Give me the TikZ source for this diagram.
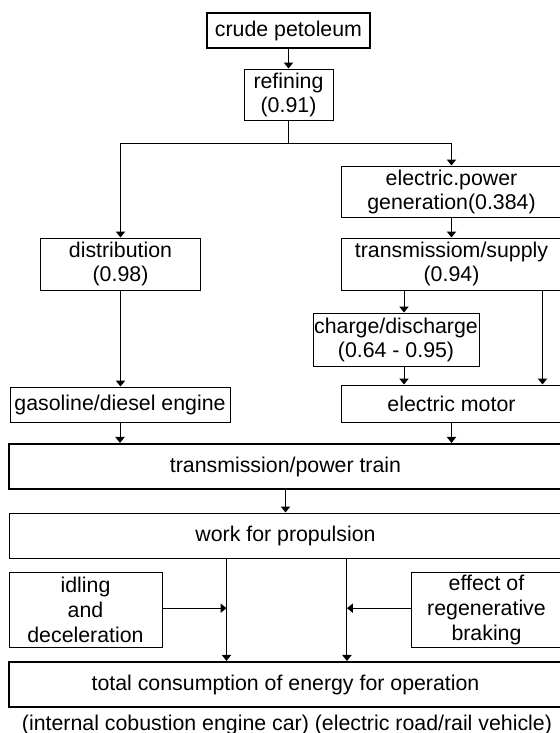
\documentclass[tikz,border=0pt]{standalone}
\usepackage{fontspec}
\setmainfont{Liberation Sans}
\usetikzlibrary{arrows.meta}
\tikzset{
  blk/.style={draw, line width=0.75pt, inner sep=0pt, align=center, font=\fontsize{16}{18}\selectfont},
  thk/.style={blk, line width=1.6pt},
  arr/.style={-{Triangle[width=7pt,length=4.5pt]}, line width=0.75pt},
}
\begin{document}
\begin{tikzpicture}[x=0.75pt, y=-0.75pt]
  \useasboundingbox (0,0) rectangle (560,733);
  % fuel chain
  \node[thk, minimum width=122.25pt, minimum height=26.25pt] (crude) at (288.5,30.5) {crude petoleum};
  \node[blk, minimum width=66.75pt, minimum height=38.25pt] (refining) at (288.5,94.5) {refining\\(0.91)};
  \node[blk, minimum width=120pt, minimum height=39pt] (distribution) at (120.5,264) {distribution\\(0.98)};
  \node[blk, minimum width=165pt, minimum height=26.25pt] (gasoline) at (120,404.5) {gasoline/diesel engine};
  % electric chain
  \node[blk, minimum width=165.75pt, minimum height=38.25pt] (elpower) at (451.5,191.5) {electric.power\\generation(0.384)};
  \node[blk, minimum width=165.75pt, minimum height=39pt] (supply) at (451.5,264) {transmissiom/supply\\(0.94)};
  \node[blk, minimum width=124.5pt, minimum height=39.75pt] (charge) at (396,339.5) {charge/discharge\\(0.64 - 0.95)};
  \node[blk, minimum width=165.75pt, minimum height=27.75pt] (motor) at (451.5,403.5) {electric motor};
  % common part
  \node[thk, minimum width=414.75pt, minimum height=33.75pt] (powertrain) at (285.5,466.5) {transmission/power train};
  \node[blk, minimum width=414.75pt, minimum height=33.75pt] (work) at (285.5,535.5) {work for propulsion};
  \node[blk, minimum width=114.75pt, minimum height=56.25pt, font=\fontsize{16}{18.75}\selectfont] (idling) at (85.5,609.5) {idling\\and\\deceleration};
  \node[blk, minimum width=113.25pt, minimum height=56.25pt, font=\fontsize{16}{18.75}\selectfont] (regen) at (486.5,609.5) {effect of\\regenerative\\braking};
  \node[thk, minimum width=414.75pt, minimum height=33.75pt] (total) at (285.5,684.5) {total consumption of energy for operation};
  \node[font=\fontsize{16}{18}\selectfont, inner sep=0pt, anchor=base] (caption) at (287,730.5) {(internal cobustion engine car) (electric road/rail vehicle)};

  \coordinate (split) at (288.5,143);
  \coordinate (ice) at ([xshift=-44.25pt]work.south);
  \coordinate (ev) at ([xshift=46.1pt]work.south);

  \draw[arr] (crude) -- (refining);
  \draw (refining.south) -- (split);
  \draw[arr] (split) -| (distribution.north);
  \draw[arr] (split) -| (elpower.north);
  \draw[arr] (distribution.south) -- (distribution.south |- gasoline.north);
  \draw[arr] (elpower) -- (supply);
  \draw[arr] ([xshift=6pt]charge.north |- supply.south) -- ([xshift=6pt]charge.north);
  \draw[arr] ([xshift=-15pt]supply.south east) -- ([xshift=-15pt]motor.north east);
  \draw[arr] ([xshift=6pt]charge.south) -- ([xshift=6pt]charge.south |- motor.north);
  \draw[arr] (gasoline.south) -- (gasoline.south |- powertrain.north);
  \draw[arr] (motor.south) -- (motor.south |- powertrain.north);
  \draw[arr] (powertrain) -- (work);
  \draw[arr] (ice) -- (ice |- total.north);
  \draw[arr] (ev) -- (ev |- total.north);
  \draw[arr] ([yshift=1pt]idling.east) -- ([yshift=1pt]ice |- idling.east);
  \draw[arr] ([yshift=1pt]regen.west) -- ([yshift=1pt]ev |- regen.west);
\end{tikzpicture}
\end{document}
